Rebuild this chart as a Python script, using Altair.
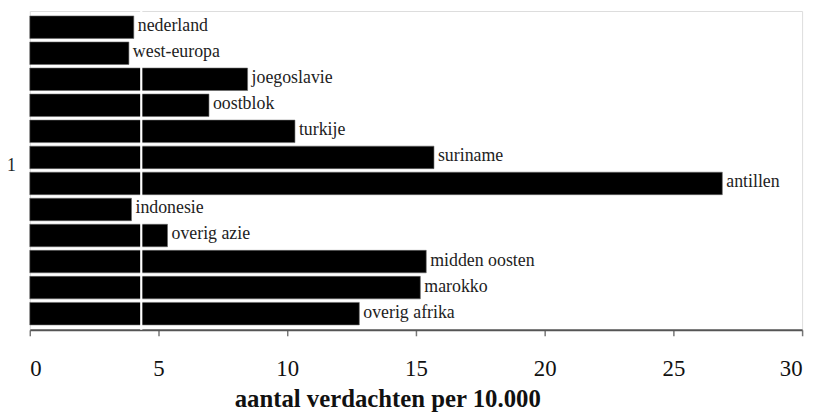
import altair as alt
import pandas as pd

categories = ["nederland", "west-europa", "joegoslavie", "oostblok", "turkije", "suriname",
              "antillen", "indonesie", "overig azie", "midden oosten", "marokko", "overig afrika"]
values = [4.04, 3.85, 8.46, 6.96, 10.3, 15.7, 26.9, 3.95, 5.35, 15.4, 15.17, 12.8]
reference_value = [4.33]
x_ticks = [0, 5, 10, 15, 20, 25, 30]

df = pd.DataFrame({"cat": categories, "val": values})
ref = pd.DataFrame({"v": reference_value})

FONT = "'Liberation Serif', 'Times New Roman', serif"

x_scale = alt.Scale(domain=[0, 30], nice=False, zero=True)
y_enc = alt.Y("cat:N", sort=categories,
              scale=alt.Scale(paddingInner=0.137, paddingOuter=0.19),
              axis=alt.Axis(title="1", titleAngle=0, titleFont=FONT, titleFontSize=18,
                            titleFontWeight="normal", titleColor="#222",
                            titleX=-19, titleY=156, titleAlign="center", titleBaseline="middle",
                            labels=False, ticks=False, domain=False, grid=False))

bars = alt.Chart(df).mark_bar(color="black", stroke="#666", strokeWidth=0.6).encode(
    x=alt.X("val:Q", scale=x_scale,
            axis=alt.Axis(values=x_ticks, title="aantal verdachten per 10.000",
                          titleFont=FONT, titleFontSize=25, titleFontWeight="bold",
                          titleColor="#111", titleX=361, titleY=77,
                          titleAlign="center", titleBaseline="alphabetic",
                          labelFont=FONT, labelFontSize=23, labelColor="#111",
                          labelBaseline="alphabetic",
                          labelPadding=40, tickSize=6, tickColor="#777", tickWidth=1.5,
                          domainColor="#555", domainWidth=2, grid=False)),
    y=y_enc,
)

labels = alt.Chart(df).mark_text(align="left", baseline="middle", dx=4, dy=-1, font=FONT,
                                 fontSize=18, color="#222").encode(
    x=alt.X("val:Q", scale=x_scale),
    y=alt.Y("cat:N", sort=categories),
    text="cat:N",
)

rule = alt.Chart(ref).mark_rule(color="white", strokeWidth=2.2).encode(
    x=alt.X("v:Q", scale=x_scale),
)

chart = alt.layer(bars, rule, labels).properties(
    width=780, height=322,
    autosize=alt.AutoSizeParams(type="none"),
    padding={"left": 22, "top": 1, "right": 11, "bottom": 87},
).configure_view(stroke="#7a7a7a", strokeWidth=2).configure(background="white")

chart.save("out.html", embed_options={"renderer": "svg", "actions": False})
